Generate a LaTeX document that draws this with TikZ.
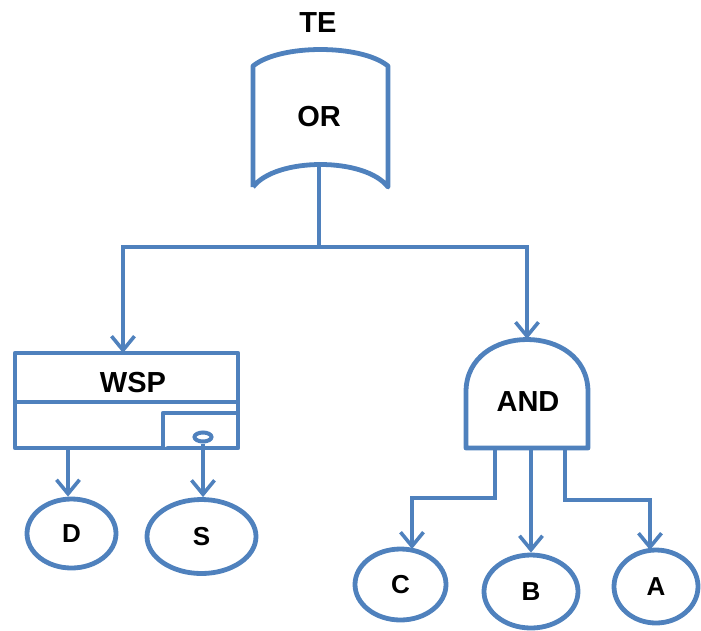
\documentclass[tikz,border=0pt]{standalone}
\usepackage{fontspec}
\setmainfont{Liberation Sans}
\usetikzlibrary{arrows.meta,shapes.geometric}
\definecolor{gblue}{HTML}{4F81BD}
\tikzset{
  gate/.style={draw=gblue,line width=4.8pt,line join=round,fill=white},
  conn/.style={draw=gblue,line width=3.8pt,line join=miter},
  arr/.style={conn,-{Straight Barb[length=14pt,width=23pt,line width=3.6pt]}},
  ev/.style={ellipse,draw=gblue,line width=4.8pt,inner sep=0pt,font=\fontsize{26}{28}\selectfont\bfseries},
  title/.style={inner sep=0pt,font=\fontsize{29}{31}\selectfont\bfseries}
}
\begin{document}
\begin{tikzpicture}[x=1pt,y=-1pt]
\useasboundingbox (0,0) rectangle (701,630);
% OR gate
\path[gate] (253,187) -- (253,66) .. controls (280,44) and (361,44) .. (388,66)
  -- (388,187) .. controls (365,157) and (276,157) .. (253,187);
\node[title] (te) at (318,23) {TE};
\node[title] (or) at (319,117) {OR};
\coordinate (orout) at (319,164);
\coordinate (split) at (319,247);
% WSP box
\path[gate] (15,353) rectangle (238,448);
\draw[gate] (15,402) -- (238,402);
\draw[gate] (163,448) -- (163,413) -- (238,413);
\node[title] (wsp) at (133,383) {WSP};
\node[ellipse,draw=gblue,line width=4pt,minimum width=17pt,minimum height=9pt,inner sep=0pt] (sw) at (203,437) {};
\coordinate (wspin) at (123,353);
\coordinate (wspd) at (68,448);
% AND gate
\path[gate] (466,448) -- (466,392) .. controls (466,322) and (588,322) .. (588,392) -- (588,448) -- cycle;
\node[title] (and) at (528,402) {AND};
\coordinate (andin) at (527,339);
\coordinate (ac) at (495,448);
\coordinate (ab) at (531,448);
\coordinate (aa) at (565,448);
% events
\node[ev,minimum width=89pt,minimum height=69pt] (D) at (71.5,533.5) {D};
\node[ev,minimum width=109pt,minimum height=74pt] (S) at (201.5,536.5) {S};
\node[ev,minimum width=91pt,minimum height=71pt] (C) at (400.5,584.5) {C};
\node[ev,minimum width=94pt,minimum height=73pt] (B) at (531,591.5) {B};
\node[ev,minimum width=84pt,minimum height=73pt] (A) at (656,586.5) {A};
% connectors
\draw[conn] (orout) -- (split);
\draw[arr] (split) -| (wspin);
\draw[arr] (split) -| (andin);
\draw[arr] (wspd) -- (wspd |- D.north);
\draw[arr] (sw.south) -- (sw.south |- S.north);
\draw[arr] (ac) -- (495,498) -- (412,498) -- (412,549);
\draw[arr] (ab) -- (B.north);
\draw[arr] (aa) -- (565,500) -- (650,500) -- (650,550);
\end{tikzpicture}
\end{document}
